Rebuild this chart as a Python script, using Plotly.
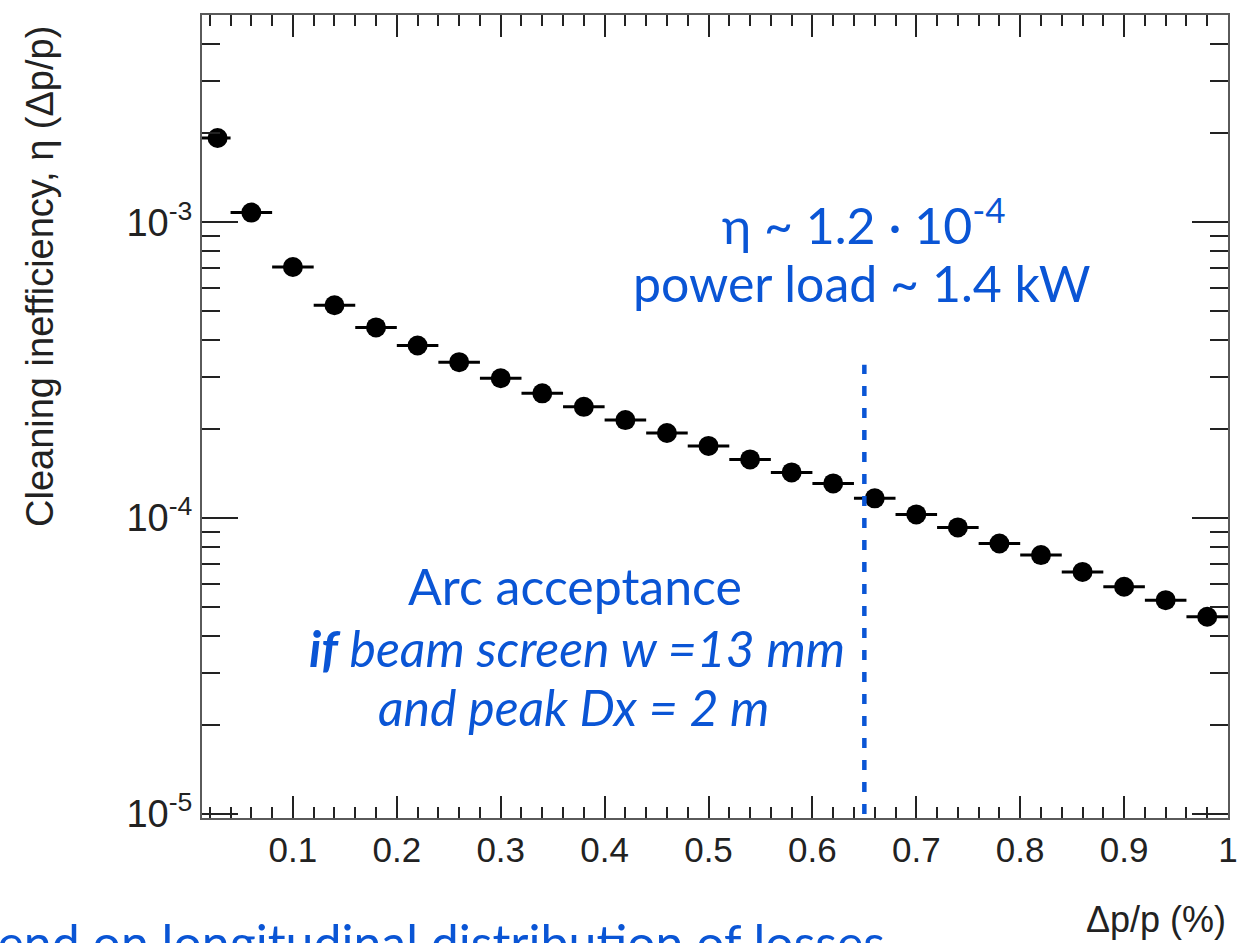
import plotly.graph_objects as go

# Momentum-offset bins (Δp/p in %) and measured cleaning inefficiency
dp_centers = [0.0275, 0.06, 0.10, 0.14, 0.18, 0.22, 0.26, 0.30, 0.34, 0.38,
              0.42, 0.46, 0.50, 0.54, 0.58, 0.62, 0.66, 0.70, 0.74, 0.78,
              0.82, 0.86, 0.90, 0.94, 0.98]
bin_lo = [0.015] + [0.02] * 24
bin_hi = [0.0125] + [0.02] * 24
eta = [1.926e-3, 1.078e-3, 7.06e-4, 5.24e-4, 4.41e-4, 3.83e-4, 3.365e-4,
       2.97e-4, 2.64e-4, 2.377e-4, 2.144e-4, 1.94e-4, 1.754e-4, 1.579e-4,
       1.427e-4, 1.31e-4, 1.166e-4, 1.029e-4, 9.30e-5, 8.21e-5, 7.50e-5,
       6.58e-5, 5.86e-5, 5.28e-5, 4.64e-5]

x_tick_vals = [0.1, 0.2, 0.3, 0.4, 0.5, 0.6, 0.7, 0.8, 0.9, 1.0]
x_tick_text = ["0.1", "0.2", "0.3", "0.4", "0.5", "0.6", "0.7", "0.8", "0.9", "1"]
y_tick_vals = [1e-5, 1e-4, 1e-3]
y_tick_text = ["10<sup>-5</sup>", "10<sup>-4</sup>", "10<sup>-3</sup>"]

arc_cut = 0.65          # momentum acceptance of the arc
arc_line_top = 3.3e-4

BLUE = "#0A55D5"
W, H = 1252, 943
L, R, T, B = 202, 24, 15, 125
PW, PH = W - L - R, H - T - B


def px(xp):
    return (xp - L) / PW


def py(yp):
    return (H - B - yp) / PH


SANS = "Liberation Sans, Arial, sans-serif"
note_font = dict(family="Lato, sans-serif", size=50, color=BLUE)

fig = go.Figure()

fig.add_trace(go.Scatter(
    x=dp_centers, y=eta, mode="markers",
    marker=dict(symbol="circle", size=20, color="black"),
    error_x=dict(type="data", symmetric=False, array=bin_hi, arrayminus=bin_lo,
                 color="black", thickness=3, width=0),
    showlegend=False,
))

fig.add_trace(go.Scatter(
    x=[arc_cut, arc_cut], y=[1e-5, arc_line_top], mode="lines",
    line=dict(color=BLUE, width=4.5, dash="10px,12px"),
    showlegend=False,
))

minor_y = [k * 10.0 ** d for d in (-5, -4, -3) for k in range(2, 10) if k * 10.0 ** d < 5.1e-3]

fig.update_xaxes(
    range=[0.0125, 1.0], tickmode="array", tickvals=x_tick_vals, ticktext=x_tick_text,
    ticks="inside", ticklen=22, tickwidth=1.6, tickcolor="#222222",
    minor=dict(ticks="inside", ticklen=11, tickwidth=1.6, tickcolor="#222222",
               tickmode="linear", tick0=0, dtick=0.02),
    showline=True, linecolor="#5a5a5a", linewidth=2, mirror="allticks",
    showgrid=False, zeroline=False,
    tickfont=dict(family=SANS, size=35, color="#222222"),
)
fig.update_yaxes(
    type="log", range=[-5.0135, -2.2997], tickmode="array",
    tickvals=y_tick_vals, ticktext=y_tick_text,
    ticks="inside", ticklen=36, tickwidth=1.6, tickcolor="#222222",
    minor=dict(ticks="inside", ticklen=18, tickwidth=1.6, tickcolor="#222222",
               tickmode="array", tickvals=minor_y),
    showline=True, linecolor="#5a5a5a", linewidth=2, mirror="allticks",
    showgrid=False, zeroline=False,
    tickfont=dict(family=SANS, size=38, color="#222222"),
)


def note(text, xp, yp, xanchor="center", yanchor="middle", font=note_font, angle=0):
    return dict(text=text, x=px(xp), y=py(yp), xref="paper", yref="paper",
                xanchor=xanchor, yanchor=yanchor, showarrow=False,
                font=font, textangle=angle)


annotations = [
    note("Cleaning inefficiency, η (Δp/p)", 40, 277,
         font=dict(family=SANS, size=38, color="#222222"), angle=-90),
    note("Δp/p (%)", 1228, 919, xanchor="right",
         font=dict(family=SANS, size=36, color="#222222")),
    note("η ~ 1.2 · 10<sup>-4</sup>", 864, 221),
    note("power load ~ 1.4 kW", 862, 283),
    note("Arc acceptance", 575, 586),
    note("<i><b>if</b> beam screen w =13 mm</i>", 577, 648),
    note("<i>and peak Dx = 2 m</i>", 573, 707),
    note("depend on longitudinal distribution of losses", 887, 910,
         xanchor="right", yanchor="top"),
]

fig.update_layout(
    width=W, height=H, margin=dict(l=L, r=R, t=T, b=B),
    plot_bgcolor="white", paper_bgcolor="white",
    annotations=annotations,
)

fig.write_html("out.html")
